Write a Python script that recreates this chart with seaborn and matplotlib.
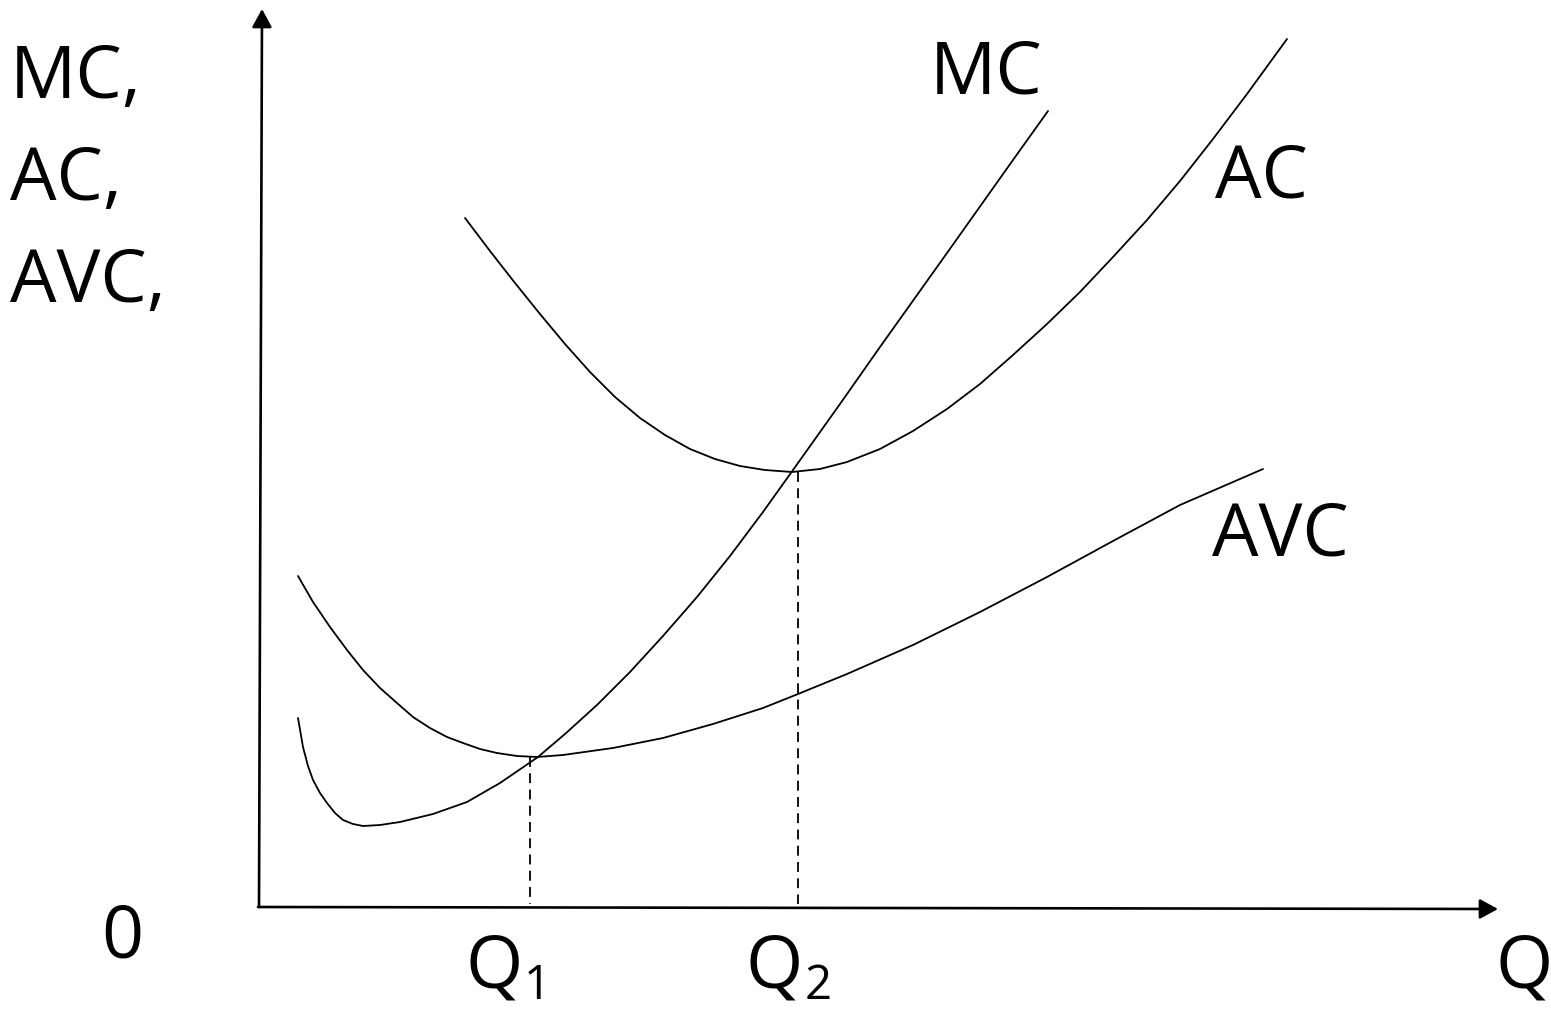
import pandas as pd
import matplotlib
matplotlib.use("Agg")
import matplotlib.pyplot as plt
import seaborn as sns

# === dati (coordinate in pixel, y verso il basso) ===

mc_x = [298, 303, 308, 313, 320, 327, 335, 343, 353, 363, 380, 400, 433, 467,
        500, 538, 565, 597, 630, 663, 697, 730, 763, 793, 840, 880, 947, 1013, 1048]
mc_y = [718, 747, 766, 780, 793, 803, 813, 820, 824, 826, 825, 822, 814, 802,
        783, 757, 734, 705, 672, 636, 597, 556, 512, 470, 404, 347, 253, 160, 111]

ac_x = [465, 490, 515, 540, 565, 590, 615, 640, 665, 690, 715, 740, 765, 792,
        820, 847, 880, 913, 947, 980, 1013, 1047, 1080, 1113, 1147, 1180, 1213,
        1247, 1287]
ac_y = [218, 251, 283, 314, 344, 372, 397, 418, 435, 449, 459, 466, 470, 472,
        469, 462, 449, 431, 409, 384, 355, 324, 292, 257, 220, 181, 139, 94, 39]

avc_x = [298, 313, 330, 347, 363, 380, 397, 413, 430, 447, 463, 480, 497, 517,
         537, 563, 613, 663, 713, 763, 798, 847, 913, 980, 1047, 1113, 1180, 1263]
avc_y = [576, 602, 627, 650, 670, 688, 703, 717, 728, 737, 743, 749, 753, 756,
         757, 755, 748, 738, 724, 708, 694, 674, 645, 612, 577, 541, 505, 469]

q_x = [530, 798]          # Q1, Q2
q_top = [757, 472]        # dove la tratteggiata tocca la curva
axis_y0 = 907

labels_left = ["MC,", "AC,", "AVC,"]
labels_left_y = [98, 200, 302]
curve_labels = ["MC", "AC", "AVC"]
curve_label_x = [930, 1215, 1212]
curve_label_y = [93, 197, 556]

sns.set_theme(style="white")
plt.rcParams["font.family"] = ["Open Sans", "DejaVu Sans"]
plt.rcParams["text.color"] = "black"

fig = plt.figure(figsize=(15.51, 10.11), dpi=100)
ax = fig.add_axes([0, 0, 1, 1])

# === curve ===
for xs, ys in [(mc_x, mc_y), (ac_x, ac_y), (avc_x, avc_y)]:
    df = pd.DataFrame({"q": xs, "c": ys})
    sns.lineplot(data=df, x="q", y="c", ax=ax, color="black", lw=1.3,
                 sort=False, estimator=None)

# tratteggiate verso Q1, Q2
for qx, qt in zip(q_x, q_top):
    df = pd.DataFrame({"q": [qx, qx], "c": [qt, axis_y0 - 3]})
    sns.lineplot(data=df, x="q", y="c", ax=ax, color="black", lw=1.3,
                 sort=False, estimator=None, linestyle=(0, (5.5, 3.5)))

# === assi con frecce ===
arrow = dict(arrowstyle="-|>,head_length=11,head_width=6", mutation_scale=1,
             lw=1.9, color="black", shrinkA=0, shrinkB=0)
ax.annotate("", xy=(262, 9), xytext=(259, axis_y0), arrowprops=arrow)
ax.annotate("", xy=(1498, 909), xytext=(258, axis_y0), arrowprops=arrow)

# === etichette ===
fs = 53
for t, y in zip(labels_left, labels_left_y):
    ax.text(10, y, t, fontsize=fs, va="baseline", ha="left", color="black")
for t, x, y in zip(curve_labels, curve_label_x, curve_label_y):
    ax.text(x, y, t, fontsize=fs, va="baseline", ha="left", color="black")

ax.text(101, 958, "0", fontsize=fs, va="baseline", ha="left", color="black")
ax.text(465, 987, "Q", fontsize=fs, va="baseline", ha="left", color="black")
ax.text(524, 999, "1", fontsize=34, va="baseline", ha="left", color="black")
ax.text(745, 987, "Q", fontsize=fs, va="baseline", ha="left", color="black")
ax.text(805, 999, "2", fontsize=34, va="baseline", ha="left", color="black")
ax.text(1496, 987, "Q", fontsize=fs, va="baseline", ha="left", color="black")

ax.set_xlim(0, 1551)
ax.set_ylim(1011, 0)
ax.axis("off")

fig.savefig("out.png", dpi=100, facecolor="white")
